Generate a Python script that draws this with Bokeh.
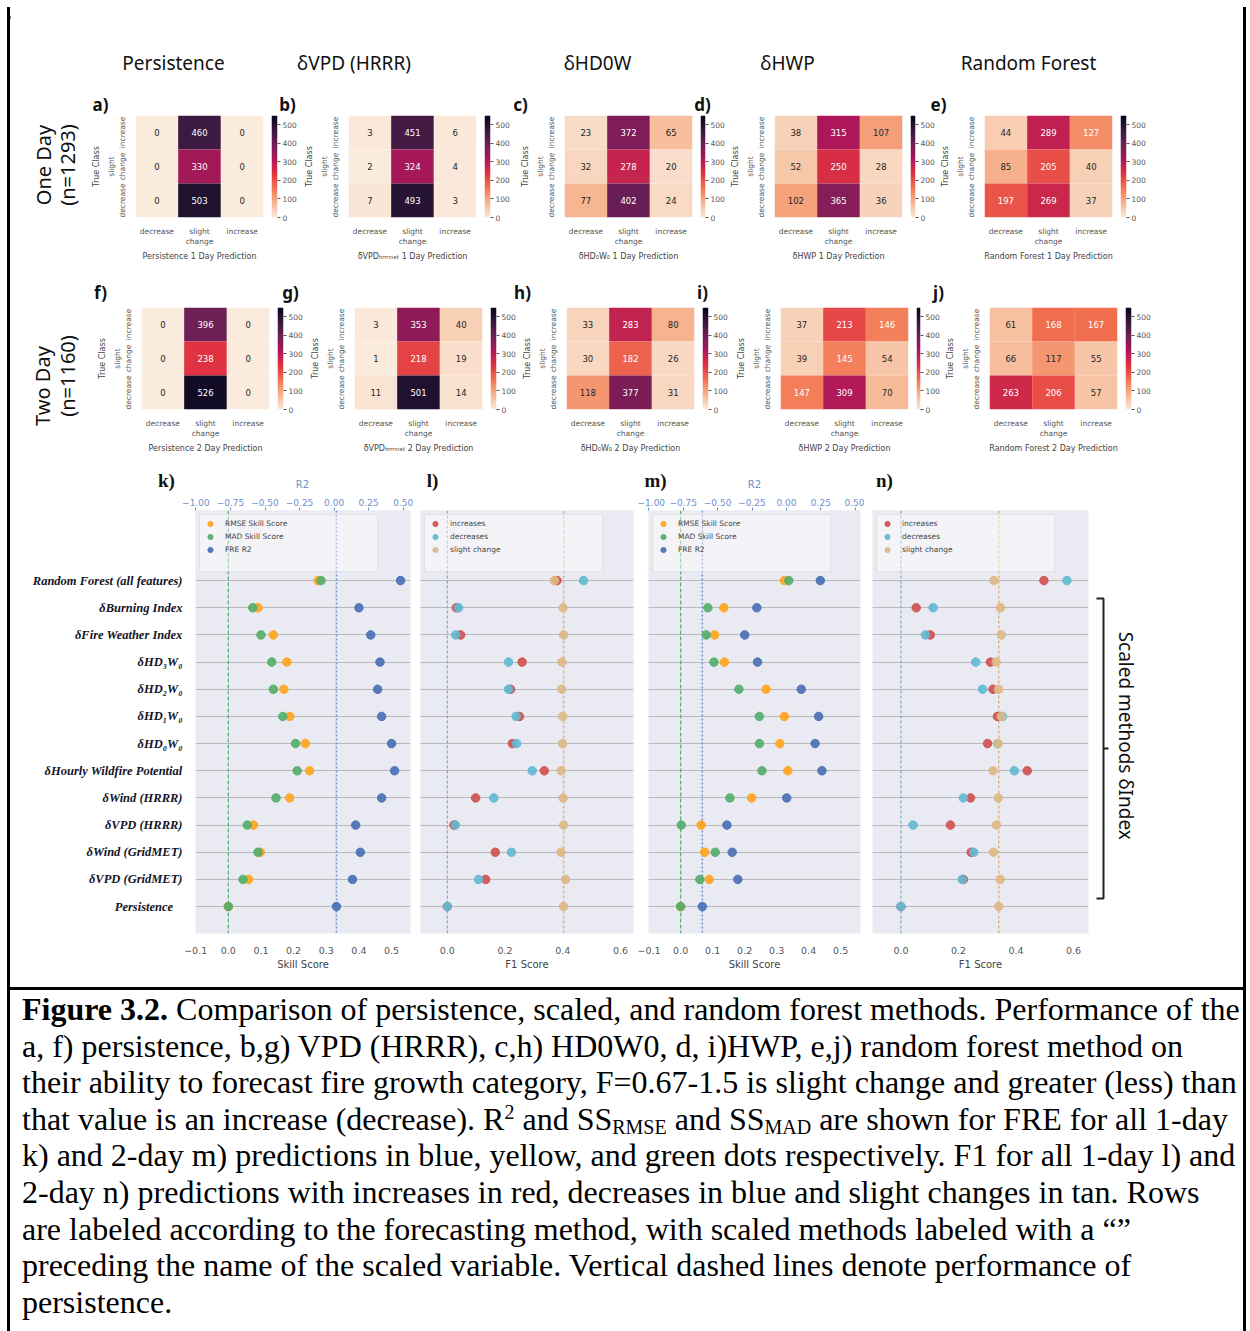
import numpy as np
from bokeh.plotting import figure
from bokeh.models import (Range1d, LinearColorMapper, FixedTicker, LinearAxis, Span,
                          LegendItem, ColumnDataSource, Div, Spacer, Grid)
from bokeh.layouts import row, column
from bokeh.core.properties import value
from bokeh.embed import file_html
from bokeh.resources import INLINE

# ------------------------------------------------------------------ data
pred_classes = ["decrease", "slight\nchange", "increase"]
true_classes = ["decrease", "slight\nchange", "increase"]
# rows = true class from top (increase, slight change, decrease); cols = predicted (decrease, slight change, increase)
cm_persist_1 = [[0, 460, 0], [0, 330, 0], [0, 503, 0]]
cm_vpd_1 = [[3, 451, 6], [2, 324, 4], [7, 493, 3]]
cm_hd0w0_1 = [[23, 372, 65], [32, 278, 20], [77, 402, 24]]
cm_hwp_1 = [[38, 315, 107], [52, 250, 28], [102, 365, 36]]
cm_rf_1 = [[44, 289, 127], [85, 205, 40], [197, 269, 37]]
cm_persist_2 = [[0, 396, 0], [0, 238, 0], [0, 526, 0]]
cm_vpd_2 = [[3, 353, 40], [1, 218, 19], [11, 501, 14]]
cm_hd0w0_2 = [[33, 283, 80], [30, 182, 26], [118, 377, 31]]
cm_hwp_2 = [[37, 213, 146], [39, 145, 54], [147, 309, 70]]
cm_rf_2 = [[61, 168, 167], [66, 117, 55], [263, 206, 57]]
colorbar_ticks = [0, 100, 200, 300, 400, 500]

col_titles = ["Persistence", "δVPD  (HRRR)", "δHD0W", "δHWP", "Random Forest"]
xlabels_1 = ["Persistence 1 Day Prediction", "δVPDₕᵣᵣᵣₘₑₜ 1 Day Prediction", "δHD₀W₀ 1 Day Prediction",
             "δHWP 1 Day Prediction", "Random Forest 1 Day Prediction"]
xlabels_2 = ["Persistence 2 Day Prediction", "δVPDₕᵣᵣᵣₘₑₜ 2 Day Prediction", "δHD₀W₀ 2 Day Prediction",
             "δHWP 2 Day Prediction", "Random Forest 2 Day Prediction"]
letters_1 = ["a)", "b)", "c)", "d)", "e)"]
letters_2 = ["f)", "g)", "h)", "i)", "j)"]
letters_3 = ["k)", "l)", "m)", "n)"]
row_labels = [("One Day", "(n=1293)"), ("Two Day", "(n=1160)")]

methods = ["Random Forest (all features)", "δBurning Index", "δFire Weather Index", "δHD₃W₀", "δHD₂W₀",
           "δHD₁W₀", "δHD₀W₀", "δHourly Wildfire Potential", "δWind (HRRR)", "δVPD (HRRR)",
           "δWind (GridMET)", "δVPD (GridMET)", "Persistence\u00a0\u00a0\u00a0"]

# k) one-day skill scores / R2
k_rmse = [0.275, 0.091, 0.138, 0.179, 0.170, 0.188, 0.236, 0.249, 0.188, 0.077, 0.098, 0.062, 0.0]
k_mad = [0.284, 0.075, 0.100, 0.133, 0.138, 0.167, 0.206, 0.211, 0.146, 0.058, 0.091, 0.045, 0.0]
k_r2 = [0.481, 0.180, 0.265, 0.332, 0.315, 0.344, 0.416, 0.438, 0.344, 0.156, 0.190, 0.133, 0.017]
# l) one-day F1
l_inc = [0.380, 0.031, 0.046, 0.259, 0.219, 0.250, 0.225, 0.336, 0.098, 0.023, 0.166, 0.133, 0.0]
l_dec = [0.472, 0.039, 0.029, 0.212, 0.212, 0.238, 0.240, 0.294, 0.161, 0.028, 0.222, 0.108, 0.0]
l_slight = [0.371, 0.401, 0.403, 0.397, 0.396, 0.400, 0.399, 0.394, 0.401, 0.403, 0.394, 0.410, 0.403]
# m) two-day skill scores / R2
m_rmse = [0.324, 0.135, 0.106, 0.137, 0.267, 0.324, 0.310, 0.335, 0.222, 0.064, 0.075, 0.089, 0.0]
m_mad = [0.338, 0.085, 0.080, 0.104, 0.182, 0.246, 0.246, 0.254, 0.154, 0.002, 0.108, 0.060, 0.0]
m_r2 = [0.246, -0.215, -0.303, -0.210, 0.108, 0.234, 0.208, 0.258, 0.002, -0.432, -0.394, -0.353, -0.611]
# n) two-day F1
n_inc = [0.497, 0.053, 0.102, 0.311, 0.320, 0.335, 0.301, 0.439, 0.242, 0.172, 0.244, 0.217, 0.0]
n_dec = [0.577, 0.112, 0.085, 0.260, 0.284, 0.353, 0.336, 0.394, 0.217, 0.042, 0.253, 0.213, 0.0]
n_slight = [0.323, 0.346, 0.349, 0.331, 0.339, 0.349, 0.338, 0.320, 0.338, 0.332, 0.321, 0.345, 0.340]

ss_ticks = [-0.1, 0.0, 0.1, 0.2, 0.3, 0.4, 0.5]
ss_tick_labels = ["−0.1", "0.0", "0.1", "0.2", "0.3", "0.4", "0.5"]
f1_ticks = [0.0, 0.2, 0.4, 0.6]
f1_tick_labels = ["0.0", "0.2", "0.4", "0.6"]
r2_ticks = [-1.0, -0.75, -0.5, -0.25, 0.0, 0.25, 0.5]
r2_tick_labels = ["−1.00", "−0.75", "−0.50", "−0.25", "0.00", "0.25", "0.50"]

SUBSTYLE = "font-size:20px;position:relative;top:4px;line-height:0"
SUPSTYLE = "font-size:20px;position:relative;top:-11px;line-height:0"
caption_lines = [
    "<b>Figure 3.2.</b> Comparison of persistence, scaled, and random forest methods. Performance of the",
    "a, f) persistence, b,g) VPD (HRRR), c,h) HD0W0, d, i)HWP, e,j) random forest method on",
    "their ability to forecast fire growth category, F=0.67-1.5 is slight change and greater (less) than",
    "that value is an increase (decrease). R<span style='%s'>2</span> and "
    "SS<span style='%s'>RMSE</span> and SS<span style='%s'>MAD</span>"
    " are shown for FRE for all 1-day" % (SUPSTYLE, SUBSTYLE, SUBSTYLE),
    "k) and 2-day m) predictions in blue, yellow, and green dots respectively. F1 for all 1-day l) and",
    "2-day n) predictions with increases in red, decreases in blue and slight changes in tan. Rows",
    "are labeled according to the forecasting method, with scaled methods labeled with a \u201c\u201d",
    "preceding the name of the scaled variable. Vertical dashed lines denote performance of",
    "persistence.",
]

# ------------------------------------------------------------------ styles
CMAX = 550
anchors = [(0.0, "#FAEBDD"), (1 / 7, "#F6B48F"), (2 / 7, "#F37651"), (3 / 7, "#E13342"),
           (4 / 7, "#AD1759"), (5 / 7, "#701F57"), (6 / 7, "#35193E"), (1.0, "#03051A")]


def build_palette(n=256):
    pos = np.array([a[0] for a in anchors])
    rgb = np.array([[int(h[i:i + 2], 16) for i in (1, 3, 5)] for _, h in anchors], float)
    out = []
    for t in np.linspace(0, 1, n):
        r, g, b = (np.interp(t, pos, rgb[:, c]) for c in range(3))
        out.append("#%02x%02x%02x" % (int(round(r)), int(round(g)), int(round(b))))
    return out


PALETTE = build_palette()
mapper = LinearColorMapper(palette=PALETTE, low=0, high=CMAX)


def rel_lum(hexc):
    vals = [int(hexc[i:i + 2], 16) / 255 for i in (1, 3, 5)]
    lin = [c / 12.92 if c <= 0.03928 else ((c + 0.055) / 1.055) ** 2.4 for c in vals]
    return 0.2126 * lin[0] + 0.7152 * lin[1] + 0.0722 * lin[2]


def text_color_for(v):
    idx = min(255, int(v / CMAX * 256))
    return "#262626" if rel_lum(PALETTE[idx]) > 0.408 else "#ffffff"


SANS = "DejaVu Sans"
HM_H, HM_TB, HM_BB, HM_LB, HM_FW = 149, 0, 36, 36, 139


def canvas_fig(w, h, x0, y0):
    return figure(width=w, height=h, x_range=Range1d(x0, x0 + w), y_range=Range1d(y0 + h, y0),
                  x_axis_type=None, y_axis_type=None, min_border=0, toolbar_location=None,
                  output_backend="svg", outline_line_color=None)


def heatmap_fig(mat, xlabel):
    xs, ys, vs, txt, tcol = [], [], [], [], []
    for i, rowvals in enumerate(mat):
        for j, v in enumerate(rowvals):
            xs.append(j + 0.5)
            ys.append(len(mat) - 1 - i + 0.5)
            vs.append(v)
            txt.append(str(v))
            tcol.append(text_color_for(v))
    src = ColumnDataSource(dict(x=xs, y=ys, v=vs, t=txt, c=tcol))
    p = figure(width=HM_LB + HM_FW + 8, height=HM_H, x_range=Range1d(0, 3), y_range=Range1d(0, 3),
               min_border_left=HM_LB, min_border_right=8, min_border_top=HM_TB, min_border_bottom=HM_BB,
               toolbar_location=None, output_backend="svg", outline_line_color=None)
    p.rect(x="x", y="y", width=1, height=1, source=src,
           fill_color={"field": "v", "transform": mapper}, line_color=None)
    p.text(x="x", y="y", text="t", source=src, text_color="c", text_align="center",
           text_baseline="middle", text_font=value(SANS), text_font_size="8.5px")
    p.grid.visible = False
    for ax, labels in ((p.xaxis, pred_classes), (p.yaxis, true_classes)):
        ax.ticker = FixedTicker(ticks=[0.5, 1.5, 2.5])
        ax.major_label_overrides = {0.5: labels[0], 1.5: labels[1], 2.5: labels[2]}
        ax.axis_line_color = None
        ax.major_tick_line_color = None
        ax.minor_tick_line_color = None
        ax.major_label_text_font = SANS
        ax.major_label_text_font_size = "7.5px"
        ax.major_label_text_color = "#555555"
        ax.axis_label_text_font = SANS
        ax.axis_label_text_font_size = "8px"
        ax.axis_label_text_color = "#444444"
        ax.axis_label_text_font_style = "normal"
        ax.major_label_standoff = 3
        ax.axis_label_standoff = 3
    p.yaxis.major_label_orientation = "vertical"
    p.xaxis.axis_label = xlabel
    p.yaxis.axis_label = "True Class"
    return p


GRAD = np.linspace(0, CMAX, 256).reshape(-1, 1)


def colorbar_fig(width):
    p = figure(width=width, height=HM_H, x_range=Range1d(0, 1), y_range=Range1d(0, CMAX),
               min_border_left=0, min_border_right=width - 6, min_border_top=HM_TB,
               min_border_bottom=HM_BB, toolbar_location=None, output_backend="svg",
               outline_line_color=None, x_axis_location=None, y_axis_location="right")
    p.image(image=[GRAD], x=0, y=0, dw=1, dh=CMAX, color_mapper=mapper)
    p.grid.visible = False
    ax = p.yaxis
    ax.ticker = FixedTicker(ticks=colorbar_ticks)
    ax.axis_line_color = None
    ax.major_tick_in = 0
    ax.major_tick_out = 3
    ax.major_tick_line_color = "#555555"
    ax.minor_tick_line_color = None
    ax.major_label_text_font = SANS
    ax.major_label_text_font_size = "7.5px"
    ax.major_label_text_color = "#555555"
    ax.major_label_standoff = 2
    return p


def rotated_label_div(w, h, items):
    inner = ""
    for txt, cx, cy in items:
        inner += ('<div style="position:absolute;left:%dpx;top:%dpx;transform:translate(-50%%,-50%%) '
                  'rotate(-90deg);white-space:nowrap;font-family:\'Noto Sans\',sans-serif;font-size:20px;'
                  'line-height:24px;color:#111;">%s</div>' % (cx, cy, txt))
    return Div(width=w, height=h, margin=0,
               text='<div style="position:relative;width:%dpx;height:%dpx;">%s</div>' % (w, h, inner))


# ------------------------------------------------------------------ heatmap rows
header = canvas_fig(1233, 105, 10, 10)
header.text(x=[173, 356, 597, 787, 1028], y=[62] * 5, text=col_titles, text_font=value("Noto Sans"),
            text_font_size="19px", text_align="center", text_baseline="middle", text_color="#111111")
header.text(x=[100, 287, 520, 702, 938], y=[104] * 5, text=letters_1, text_font=value("Noto Sans"),
            text_font_size="17px", text_font_style="bold", text_align="center", text_baseline="middle",
            text_color="#111111")

lab1 = rotated_label_div(78, HM_H, [(row_labels[0][0], 34, 50), (row_labels[0][1], 58, 50)])

mats_1 = [cm_persist_1, cm_vpd_1, cm_hd0w0_1, cm_hwp_1, cm_rf_1]
cbw_1 = [30, 33, 27, 27, 123]
kids1 = [lab1]
for mat, xl, cw in zip(mats_1, xlabels_1, cbw_1):
    kids1 += [heatmap_fig(mat, xl), colorbar_fig(cw)]
row1 = row(kids1, spacing=0)

strip2 = canvas_fig(1233, 43, 10, 264)
strip2.text(x=[100, 290, 522, 702, 938], y=[292] * 5, text=letters_2, text_font=value("Noto Sans"),
            text_font_size="17px", text_font_style="bold", text_align="center", text_baseline="middle",
            text_color="#111111")

lab2 = rotated_label_div(84, HM_H, [(row_labels[1][0], 33, 79), (row_labels[1][1], 58, 69)])

mats_2 = [cm_persist_2, cm_vpd_2, cm_hd0w0_2, cm_hwp_2, cm_rf_2]
cbw_2 = [30, 29, 31, 26, 118]
kids2 = [lab2]
for mat, xl, cw in zip(mats_2, xlabels_2, cbw_2):
    kids2 += [heatmap_fig(mat, xl), colorbar_fig(cw)]
row2 = row(kids2, spacing=0)

# ------------------------------------------------------------------ dot plots
R2_COLOR = "#6F8FCB"
strip3 = canvas_fig(1233, 36, 10, 456)
strip3.text(x=[166, 432, 655, 884], y=[480] * 4, text=letters_3, text_font=value("Liberation Serif"),
            text_font_size="19px", text_font_style="bold", text_align="center", text_baseline="middle",
            text_color="#111111")
strip3.text(x=[302, 754], y=[484, 484], text=["R2", "R2"], text_font=value(SANS), text_font_size="10px",
            text_align="center", text_baseline="middle", text_color=R2_COLOR)

DOT_TB, DOT_FH, DOT_BB = 18, 423, 45
DOT_H = DOT_TB + DOT_FH + DOT_BB
ROWS = list(range(len(methods)))
YR = (12.99, -2.58)
C_ORANGE, C_GREEN, C_BLUE = "#FFA51F", "#55AE6B", "#4A70B5"
C_RED, C_CYAN, C_TAN = "#CF5153", "#63BAD3", "#DDB887"


def dot_fig(width, lb, rb, xr, with_yaxis):
    p = figure(width=width, height=DOT_H, x_range=Range1d(*xr), y_range=Range1d(*YR),
               min_border_left=lb, min_border_right=rb, min_border_top=DOT_TB, min_border_bottom=DOT_BB,
               toolbar_location=None, output_backend="svg", background_fill_color="#EAEAF2",
               outline_line_color=None, y_axis_type="linear" if with_yaxis else None)
    p.xgrid.visible = False
    if with_yaxis:
        p.ygrid.visible = False
    p.add_layout(Grid(dimension=1, ticker=FixedTicker(ticks=ROWS), grid_line_color="#b9b9bd",
                      grid_line_width=1.2))
    return p


def style_bottom(p, ticks, labels, title):
    ax = p.below[0]
    ax.ticker = FixedTicker(ticks=ticks)
    ax.major_label_overrides = dict(zip(ticks, labels))
    ax.axis_line_color = None
    ax.major_tick_line_color = None
    ax.minor_tick_line_color = None
    ax.major_label_text_font = SANS
    ax.major_label_text_font_size = "9.5px"
    ax.major_label_text_color = "#555555"
    ax.major_label_standoff = 7
    ax.axis_label = title
    ax.axis_label_text_font = SANS
    ax.axis_label_text_font_size = "10px"
    ax.axis_label_text_font_style = "normal"
    ax.axis_label_text_color = "#444444"
    ax.axis_label_standoff = 2


def add_r2_axis(p, r2_range):
    p.extra_x_ranges = {"r2": Range1d(*r2_range)}
    ax = LinearAxis(x_range_name="r2", ticker=FixedTicker(ticks=r2_ticks),
                    major_label_overrides=dict(zip(r2_ticks, r2_tick_labels)))
    ax.axis_line_color = None
    ax.major_tick_in = 0
    ax.major_tick_out = 3
    ax.major_tick_line_color = R2_COLOR
    ax.minor_tick_line_color = None
    ax.major_label_text_font = SANS
    ax.major_label_text_font_size = "9px"
    ax.major_label_text_color = R2_COLOR
    ax.major_label_standoff = 2
    p.add_layout(ax, "above")


def style_legend(p):
    dummy = p.scatter(x=[], y=[], size=0, alpha=0)
    lg = p.legend[0]
    lg.items.append(LegendItem(label=" ", renderers=[dummy]))
    lg.location = "top_left"
    lg.margin = 4
    lg.padding = 2
    lg.spacing = 0
    lg.glyph_width = 16
    lg.glyph_height = 13
    lg.label_height = 13
    lg.label_width = 150
    lg.label_standoff = 7
    lg.label_text_font = SANS
    lg.label_text_font_size = "7.5px"
    lg.label_text_color = "#444444"
    lg.background_fill_color = "white"
    lg.background_fill_alpha = 0.45
    lg.border_line_color = "#d2d2d6"


def skill_panel(width, lb, rb, xr, r2r, rmse, mad, r2, with_yaxis):
    p = dot_fig(width, lb, rb, xr, with_yaxis)
    style_bottom(p, ss_ticks, ss_tick_labels, "Skill Score")
    add_r2_axis(p, r2r)
    src = ColumnDataSource(dict(y=ROWS, rmse=rmse, mad=mad, r2=r2))
    p.add_layout(Span(location=mad[-1], dimension="height", line_color=C_GREEN, line_dash="4 2",
                      line_width=1.2, level="underlay"))
    p.add_layout(Span(location=r2[-1], dimension="height", x_range_name="r2", line_color=R2_COLOR,
                      line_dash="2 2", line_width=1.5, level="underlay"))
    p.scatter(x="rmse", y="y", source=src, size=8.5, color=C_ORANGE, alpha=0.92, legend_label="RMSE Skill Score")
    p.scatter(x="mad", y="y", source=src, size=8.5, color=C_GREEN, alpha=0.92, legend_label="MAD Skill Score")
    p.scatter(x="r2", y="y", source=src, size=8.5, color=C_BLUE, alpha=0.92, legend_label="FRE R2",
              x_range_name="r2")
    style_legend(p)
    return p


def f1_panel(width, lb, rb, xr, inc, dec, slight):
    p = dot_fig(width, lb, rb, xr, False)
    style_bottom(p, f1_ticks, f1_tick_labels, "F1 Score")
    src = ColumnDataSource(dict(y=ROWS, inc=inc, dec=dec, sl=slight))
    p.add_layout(Span(location=dec[-1], dimension="height", line_color="#7FA8C9", line_dash="3 2",
                      line_width=1.2, level="underlay"))
    p.add_layout(Span(location=slight[-1], dimension="height", line_color=C_TAN, line_dash="3 2",
                      line_width=1.5, level="underlay"))
    p.scatter(x="inc", y="y", source=src, size=8.5, color=C_RED, alpha=0.92, legend_label="increases")
    p.scatter(x="dec", y="y", source=src, size=8.5, color=C_CYAN, alpha=0.92, legend_label="decreases")
    p.scatter(x="sl", y="y", source=src, size=8.5, color=C_TAN, alpha=0.92, legend_label="slight change")
    style_legend(p)
    return p


pk = skill_panel(404, 185, 4, (-0.1005, 0.558), (-1.003, 0.553), k_rmse, k_mad, k_r2, True)
yax = pk.left[0]
yax.ticker = FixedTicker(ticks=ROWS)
yax.major_label_overrides = {i: m for i, m in enumerate(methods)}
yax.axis_line_color = None
yax.major_tick_line_color = None
yax.minor_tick_line_color = None
yax.major_label_text_font = "Liberation Serif"
yax.major_label_text_font_style = "bold italic"
yax.major_label_text_font_size = "12.5px"
yax.major_label_text_color = "#141428"
yax.major_label_standoff = 7

pl = f1_panel(223, 6, 4, (-0.093, 0.645), l_inc, l_dec, l_slight)
pm = skill_panel(227, 11, 4, (-0.1005, 0.562), (-1.002, 0.538), m_rmse, m_mad, m_r2, False)
pn = f1_panel(228, 8, 4, (-0.099, 0.652), n_inc, n_dec, n_slight)

pb = figure(width=151, height=DOT_H, x_range=Range1d(0, 151), y_range=Range1d(*YR),
            x_axis_type=None, y_axis_type=None, min_border_left=0, min_border_right=0,
            min_border_top=DOT_TB, min_border_bottom=DOT_BB, toolbar_location=None, output_backend="svg",
            outline_line_color=None)
pb.multi_line(xs=[[4, 11, 11, 4], [11, 16]], ys=[[0.66, 0.66, 11.7, 11.7], [6.18, 6.18]],
              line_color="#222222", line_width=2)
pb.text(x=[33], y=[5.71], text=["Scaled methods δIndex"], angle=-np.pi / 2,
        text_font=value("Noto Sans"), text_font_size="19px", text_align="center",
        text_baseline="middle", text_color="#111111")

dots = row([pk, pl, pm, pn, pb], spacing=0)

# ------------------------------------------------------------------ frame + caption


def bar(w, h):
    return Div(width=w, height=h, margin=0,
               text='<div style="width:%dpx;height:%dpx;background:#000"></div>' % (w, h))


caption = Div(width=1233, height=350, margin=0, text=(
    '<div style="font-family:\'Liberation Serif\',\'Times New Roman\',serif;font-size:32px;'
    'line-height:36.6px;color:#000;white-space:nowrap;padding:10px 0 0 12px;">'
    + "<br>".join(caption_lines) + "</div>"))

main = column([bar(1233, 3), header, row1, strip2, row2, strip3, dots, bar(1233, 3), caption], spacing=0)
page = column([Spacer(width=1250, height=7),
               row([Spacer(width=7, height=1324), bar(3, 1324), main, bar(3, 1324)], spacing=0)],
              spacing=0)

open("out.html", "w").write(file_html(page, INLINE))
